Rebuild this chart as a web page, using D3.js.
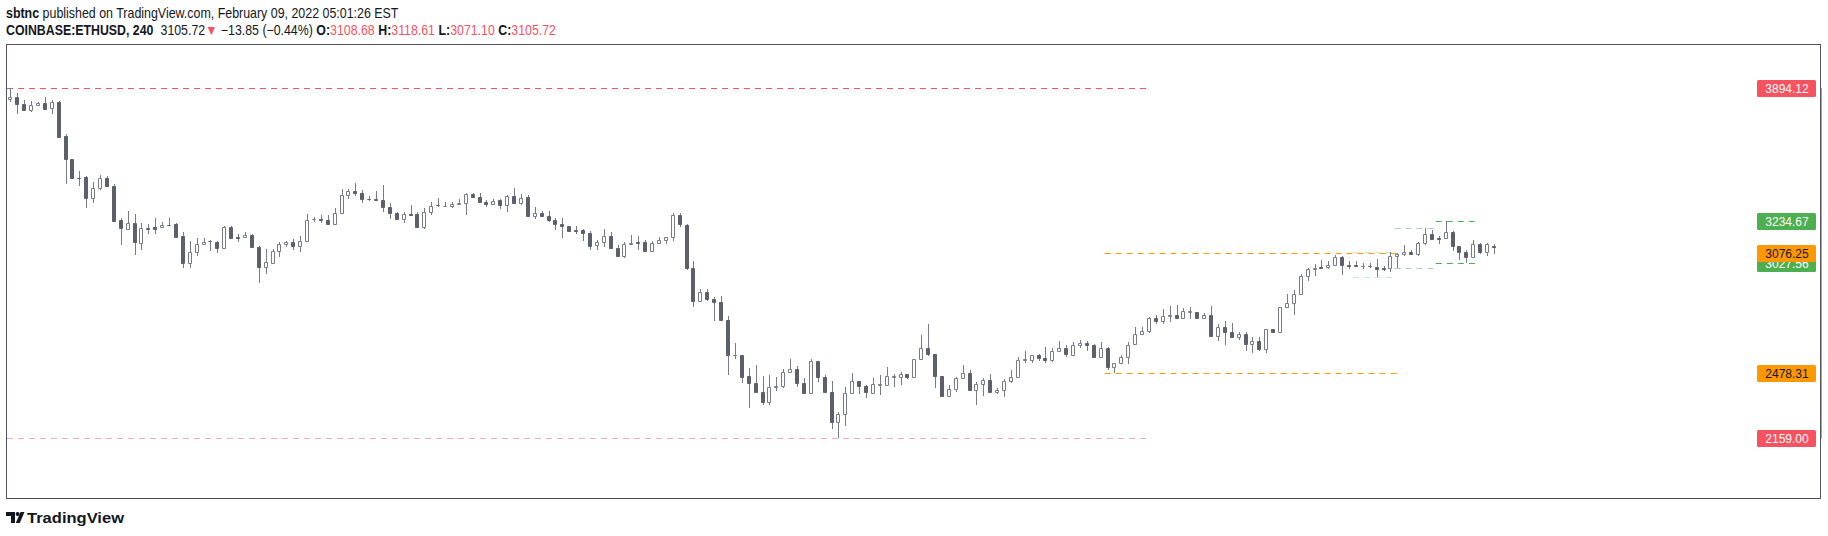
<!DOCTYPE html>
<html>
<head>
<meta charset="utf-8">
<script src="https://cdn.jsdelivr.net/npm/d3@7"></script>
<style>
  body { margin: 0; background: #fff; }
  svg { display: block; }
</style>
</head>
<body>
<div id="chart"></div>
<script>
// ETHUSD 4h candles
const opens = [3836,3846,3811,3781,3806,3816,3791,3821,3652,3539,3448,3450,3346,3395,3445,3405,3237,3195,3222,3126,
  3197,3202,3202,3215,3217,3157,3027,3078,3118,3136,3128,3098,3202,3153,3153,3162,3103,3004,3027,3083,
  3118,3128,3108,3133,3241,3242,3237,3217,3271,3360,3380,3370,3341,3341,3336,3301,3271,3242,3266,3266,
  3202,3276,3311,3306,3306,3316,3321,3365,3351,3326,3316,3336,3311,3356,3321,3351,3256,3271,3256,3237,
  3217,3207,3187,3187,3172,3113,3128,3157,3098,3058,3118,3128,3128,3083,3123,3138,3153,3261,3212,2999,
  2836,2880,2846,2831,2742,2568,2568,2464,2430,2385,2336,2410,2415,2484,2499,2430,2380,2539,2460,2385,
  2237,2276,2380,2440,2415,2380,2420,2420,2460,2460,2474,2460,2549,2603,2573,2464,2366,2400,2455,2479,
  2395,2425,2445,2385,2395,2440,2460,2544,2544,2568,2554,2544,2588,2603,2568,2618,2628,2618,2559,2603,
  2509,2529,2559,2623,2672,2687,2752,2737,2761,2766,2752,2781,2781,2752,2766,2662,2707,2682,2657,2672,
  2623,2638,2598,2697,2682,2806,2826,2870,2960,2994,3004,3004,3014,3054,3014,3014,3009,3009,3004,2999,
  2999,3058,3068,3078,3068,3123,3167,3148,3148,3177,3108,3078,3054,3118,3078,3108.68];
const highs = [3894.12,3865,3832,3826,3821,3846,3831,3827,3662,3541,3481,3455,3426,3461,3455,3415,3247,3281,3266,3222,
  3220,3248,3227,3247,3222,3177,3135,3148,3148,3141,3133,3207,3207,3167,3177,3167,3108,3093,3093,3128,
  3133,3143,3158,3266,3252,3261,3261,3296,3390,3390,3420,3387,3356,3380,3410,3321,3276,3276,3311,3276,
  3296,3326,3346,3326,3326,3341,3370,3370,3370,3336,3341,3341,3360,3395,3365,3360,3301,3281,3281,3247,
  3247,3208,3207,3192,3182,3138,3192,3177,3113,3128,3162,3157,3138,3133,3153,3154,3271,3271,3217,3034,
  2895,2895,2856,2861,2761,2628,2570,2504,2519,2464,2470,2460,2499,2549,2514,2455,2549,2540,2470,2440,
  2286,2410,2479,2441,2420,2455,2470,2509,2474,2484,2476,2550,2667,2722,2575,2466,2420,2460,2519,2494,
  2435,2455,2474,2405,2450,2494,2559,2588,2570,2573,2608,2603,2638,2618,2633,2643,2638,2623,2633,2608,
  2530,2568,2633,2707,2707,2757,2766,2796,2812,2816,2801,2806,2783,2776,2812,2722,2737,2727,2682,2682,
  2657,2657,2698,2698,2807,2870,2890,2969,2999,3019,3039,3034,3063,3058,3034,3034,3024,3024,3044,3009,
  3078,3076.25,3113,3088,3128,3197,3187,3158,3234.67,3182,3110,3088,3138,3123,3122,3118.61];
const lows = [3821,3761,3779,3771,3801,3787,3764,3646,3418,3443,3408,3299,3321,3385,3404,3230,3116,3190,3067,3091,
  3168,3170,3197,3211,3153,3002,3002,3061,3114,3086,3076,3097,3147,3131,3147,3098,2928,2971,3022,3054,
  3103,3091,3078,3132,3227,3222,3212,3216,3270,3341,3356,3321,3331,3335,3276,3242,3237,3222,3264,3201,
  3192,3261,3301,3301,3296,3315,3261,3346,3325,3301,3311,3291,3276,3316,3311,3255,3242,3251,3227,3187,
  3148,3181,3167,3133,3088,3088,3103,3093,3054,3049,3113,3088,3082,3082,3118,3118,3133,3202,2989,2809,
  2835,2836,2737,2741,2469,2549,2430,2306,2384,2321,2321,2390,2405,2479,2410,2379,2375,2435,2384,2202,
  2159.00,2217,2375,2375,2356,2375,2370,2415,2410,2420,2450,2459,2544,2563,2405,2361,2365,2385,2450,2394,
  2321,2366,2384,2375,2361,2430,2459,2529,2529,2539,2529,2534,2583,2559,2567,2603,2588,2558,2558,2494,
  2478.31,2524,2524,2618,2667,2677,2722,2722,2732,2751,2751,2747,2747,2747,2657,2638,2618,2656,2643,2588,
  2578,2588,2578,2677,2681,2805,2766,2869,2935,2960,2994,2994,3009,2964,2994,3008,2994,2999,2955,2984,
  2979,2999,3058,3063,3058,3113,3142,3118,3147,3083,3039,3027.56,3053,3068,3058,3071.10];
const closes = [3846,3811,3781,3806,3816,3788,3821,3651,3539,3445,3446,3346,3395,3445,3405,3235,3197,3222,3131,3197,
  3196,3195,3212,3213,3156,3027,3078,3118,3128,3135,3098,3202,3148,3148,3162,3103,3004,3029,3083,3118,
  3128,3108,3133,3237,3242,3237,3217,3271,3360,3380,3370,3341,3340,3336,3301,3271,3242,3266,3265,3202,
  3276,3306,3310,3307,3316,3321,3365,3351,3326,3316,3331,3311,3356,3321,3346,3256,3271,3256,3237,3217,
  3207,3182,3182,3172,3108,3128,3157,3098,3058,3118,3123,3123,3083,3123,3138,3153,3261,3217,2999,2836,
  2880,2846,2831,2742,2568,2570,2460,2430,2385,2336,2410,2415,2484,2499,2430,2380,2539,2460,2385,2237,
  2276,2380,2440,2415,2385,2425,2425,2464,2464,2474,2460,2549,2603,2573,2464,2366,2400,2455,2479,2395,
  2425,2445,2385,2395,2440,2460,2544,2549,2568,2554,2544,2588,2603,2573,2618,2628,2618,2559,2603,2509,
  2529,2559,2618,2672,2687,2752,2737,2761,2766,2752,2786,2786,2752,2766,2662,2707,2682,2657,2672,2623,
  2638,2598,2697,2682,2806,2826,2870,2960,2994,2999,2999,3014,3054,3014,3009,3009,3010,3008,2994,2994,
  3058,3068,3078,3068,3123,3167,3143,3143,3177,3108,3078,3054,3118,3078,3119.57,3105.72];

// horizontal levels (prices) and the bars they span
const extremeLevels = [3894.12, 2159.00];
const extremeEndBar = 165;
const rangeLevels = [3076.25, 2478.31];
const rangeBars = [159, 201];
const boxTops = [3078, 3197, 3234.67];
const boxBottoms = [2955, 2999, 3027.56];
const boxStarts = [195, 201, 207];
const boxEnds = [200.5, 206.5, 212.5];

const author = "sbtnc";
const published = " published on TradingView.com, February 09, 2022 05:01:26 EST";
const symbol = "COINBASE:ETHUSD, 240";

const W = 1828, H = 536;
const red = "#f7525f", green = "#4caf50", orange = "#ff9800";
const ink = "#131722";

const svg = d3.select("#chart").append("svg")
  .attr("width", W).attr("height", H)
  .style("font-family", "'Liberation Sans', Arial, sans-serif");

const data = opens.map((o, i) => ({ i: i, o: o, h: highs[i], l: lows[i], c: closes[i] }));

const x = d3.scaleLinear().domain([0, data.length - 1]).range([10.3, 1494]);
const y = d3.scaleLinear().domain([d3.min(lows), d3.max(highs)]).range([438, 87.5]);
const px = v => Math.round(v);
const py = v => Math.round(y(v)) + 0.5;

// frame
svg.append("rect")
  .attr("x", 6.5).attr("y", 44.5).attr("width", 1814).attr("height", 454)
  .attr("fill", "none").attr("stroke", "#50535e");

// right scale edge (no visible ticks)
svg.append("g")
  .attr("transform", "translate(1820.5,0)")
  .call(d3.axisRight(y).tickValues([]).tickSizeOuter(0))
  .call(g => g.select(".domain").attr("stroke", "#50535e"));

// dashed level lines
const levels = svg.append("g").attr("stroke-dasharray", "6,5").attr("fill", "none");

levels.selectAll(".ext").data(extremeLevels).join("line")
  .attr("x1", 7).attr("x2", x(extremeEndBar))
  .attr("y1", d => py(d)).attr("y2", d => py(d))
  .attr("stroke", red)
  .attr("stroke-opacity", (d, i) => i == 0 ? 1 : 0.5);

levels.selectAll(".rng").data(rangeLevels).join("line")
  .attr("x1", x(rangeBars[0]) - 3).attr("x2", x(rangeBars[1]))
  .attr("y1", d => py(d)).attr("y2", d => py(d))
  .attr("stroke", orange);

const boxOpacity = [0.3, 0.5, 1];
boxTops.forEach((t, k) => {
  [t, boxBottoms[k]].forEach(p => {
    levels.append("line")
      .attr("x1", x(boxStarts[k]) - 3).attr("x2", x(boxEnds[k]))
      .attr("y1", py(p)).attr("y2", py(p))
      .attr("stroke", green).attr("stroke-opacity", boxOpacity[k]);
  });
});

// candles
const candles = svg.append("g");
candles.selectAll("line").data(data).join("line")
  .attr("x1", d => px(x(d.i)) + 0.5).attr("x2", d => px(x(d.i)) + 0.5)
  .attr("y1", d => Math.round(y(d.h))).attr("y2", d => Math.round(y(d.l)))
  .attr("stroke", "#787b86");

candles.selectAll("path").data(data).join("path")
  .attr("d", d => {
    const t = py(Math.max(d.o, d.c)), b = py(Math.min(d.o, d.c));
    const l = px(x(d.i)) - 1.5;
    return `M${l},${t}H${l + 3}V${b}H${l}Z`;
  })
  .attr("fill", d => d.c < d.o ? "#5d606b" : "#fff")
  .attr("stroke", d => d.c < d.o ? "#5d606b" : "#787b86");

// price labels on the right
const labels = [
  { p: extremeLevels[0], bg: red, fg: "#fff" },
  { p: boxTops[2], bg: green, fg: "#fff" },
  { p: boxBottoms[2], bg: green, fg: "#fff" },
  { p: rangeLevels[0], bg: orange, fg: ink },
  { p: rangeLevels[1], bg: orange, fg: ink },
  { p: extremeLevels[1], bg: red, fg: "#fff" }
];
const lab = svg.append("g").selectAll("g").data(labels).join("g")
  .attr("transform", d => `translate(1757,${Math.round(y(d.p))})`);
lab.append("rect")
  .attr("x", 0).attr("y", -8).attr("width", 59).attr("height", 17).attr("rx", 1.5)
  .attr("fill", d => d.bg);
lab.append("text")
  .attr("x", 30).attr("y", 4.5)
  .attr("text-anchor", "middle").attr("font-size", 12)
  .attr("fill", d => d.fg)
  .text(d => d.p.toFixed(2));

// header: pieces laid out one after another, then fitted to the snapshot width
const n = data.length;
const last = data[n - 1];
const chg = last.c - closes[n - 2];
const fmt = v => (v < 0 ? "\u2212" : "") + Math.abs(v).toFixed(2);

function headerLine(parts, baseline, width) {
  const g = svg.append("g");
  let cx = 0;
  parts.forEach(p => {
    const t = g.append("text")
      .attr("x", cx).attr("y", 0)
      .attr("font-size", 14).attr("fill", p.color || ink)
      .attr("font-weight", p.bold ? "bold" : "normal")
      .style("white-space", "pre")
      .text(p.t);
    cx += t.node().getComputedTextLength();
  });
  g.attr("transform", `translate(6,${baseline}) scale(${width / cx},1)`);
}

headerLine([
  { t: author, bold: true },
  { t: published }
], 18, 393);

const parts2 = [
  { t: symbol, bold: true },
  { t: "  " + last.c.toFixed(2) },
  { t: "\u25BC", color: red },
  { t: " " + fmt(chg) + " (" + fmt(chg / closes[n - 2] * 100) + "%)" }
];
[["O", last.o], ["H", last.h], ["L", last.l], ["C", last.c]].forEach(([k, v]) => {
  parts2.push({ t: " " + k + ":", bold: true });
  parts2.push({ t: v.toFixed(2), color: red });
});
headerLine(parts2, 35, 550);

// TradingView logo
const logo = svg.append("g").attr("fill", ink);
logo.append("path").attr("d", "M6,512H15V523H11V516H6Z");
logo.append("circle").attr("cx", 17.6).attr("cy", 514).attr("r", 2);
logo.append("path").attr("d", "M20.5,512H24.5L19.8,523H15.8Z");
svg.append("text").attr("x", 27).attr("y", 523)
  .attr("font-size", 15).attr("font-weight", "bold").attr("fill", ink)
  .attr("textLength", 97).attr("lengthAdjust", "spacingAndGlyphs")
  .text("TradingView");
</script>
</body>
</html>
